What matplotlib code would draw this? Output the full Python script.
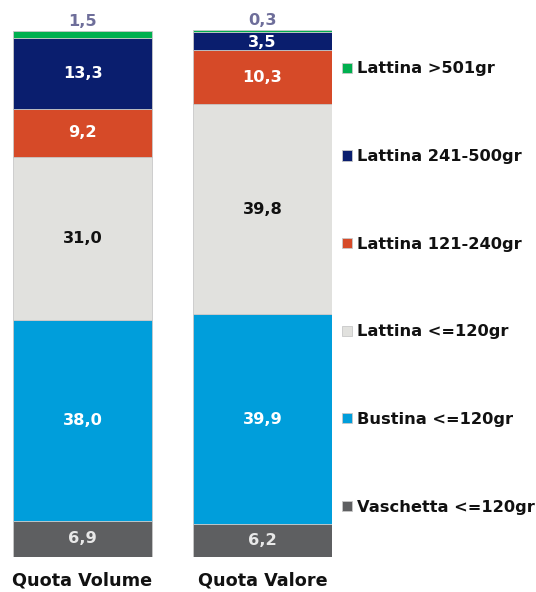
import matplotlib
matplotlib.use("Agg")
import matplotlib.pyplot as plt
import numpy as np

plt.rcParams['font.family'] = ['DejaVu Sans']

categories = ["Quota Volume", "Quota Valore"]
series = ["Vaschetta <=120gr", "Bustina <=120gr", "Lattina <=120gr",
          "Lattina 121-240gr", "Lattina 241-500gr", "Lattina >501gr"]
volume = [6.9, 38.0, 31.0, 9.2, 13.3, 1.5]
valore = [6.2, 39.9, 39.8, 10.3, 3.5, 0.3]
colors = ["#5E5F61", "#009EDB", "#E1E1DE", "#D64A28", "#0A1E6E", "#00B04F"]
label_colors = ["#E8E8E8", "#FFFFFF", "#111111", "#FFFFFF", "#FFFFFF", "#6E6E9A"]

fig = plt.figure(figsize=(5.36, 5.92), dpi=100)
W, H = 536, 592
ax = fig.add_axes([13 / W, (H - 557) / H, (332 - 13) / W, (557 - 30) / H])

w = 139 / 180
x = np.arange(len(categories))
data = np.array([volume, valore])  # shape (2, 6)
bottoms = np.zeros(len(categories))
handles = []
for i, name in enumerate(series):
    vals = data[:, i]
    b = ax.bar(x, vals, width=w, bottom=bottoms, color=colors[i],
               edgecolor="#C8C8C8", linewidth=0.6, label=name)
    handles.append(b)
    for j in range(len(categories)):
        v = vals[j]
        txt = f"{v:.1f}".replace(".", ",")
        if v < 2:
            y = bottoms[j] + v + 1.8
            col = "#6E6E9A"
        elif v < 5:
            y = bottoms[j] + v / 2 - 0.3
            col = "#FFFFFF"
        else:
            y = bottoms[j] + v / 2
            col = label_colors[i]
        ax.text(x[j], y, txt, ha="center", va="center", fontsize=11.7,
                fontweight="bold", color=col, clip_on=False)
    bottoms = bottoms + vals

ax.set_xlim(-w / 2, 1 + w / 2)
ax.set_ylim(0, 100)
ax.axis("off")

for j, c in enumerate(categories):
    ax.text(x[j], -4.5, c, ha="center", va="center", fontsize=12.7,
            fontweight="bold", color="#111111", clip_on=False)

leg = fig.legend(handles[::-1], series[::-1], loc="upper left",
                 bbox_to_anchor=(342 / W, 1 - 61.5 / H), frameon=False,
                 prop={"weight": "bold", "size": 11.7}, handlelength=0.6,
                 handleheight=0.6, handletextpad=0.35, labelspacing=4.47,
                 borderaxespad=0, borderpad=0)
for t in leg.get_texts():
    t.set_color("#111111")

fig.savefig("out.png", dpi=100, facecolor="white")
